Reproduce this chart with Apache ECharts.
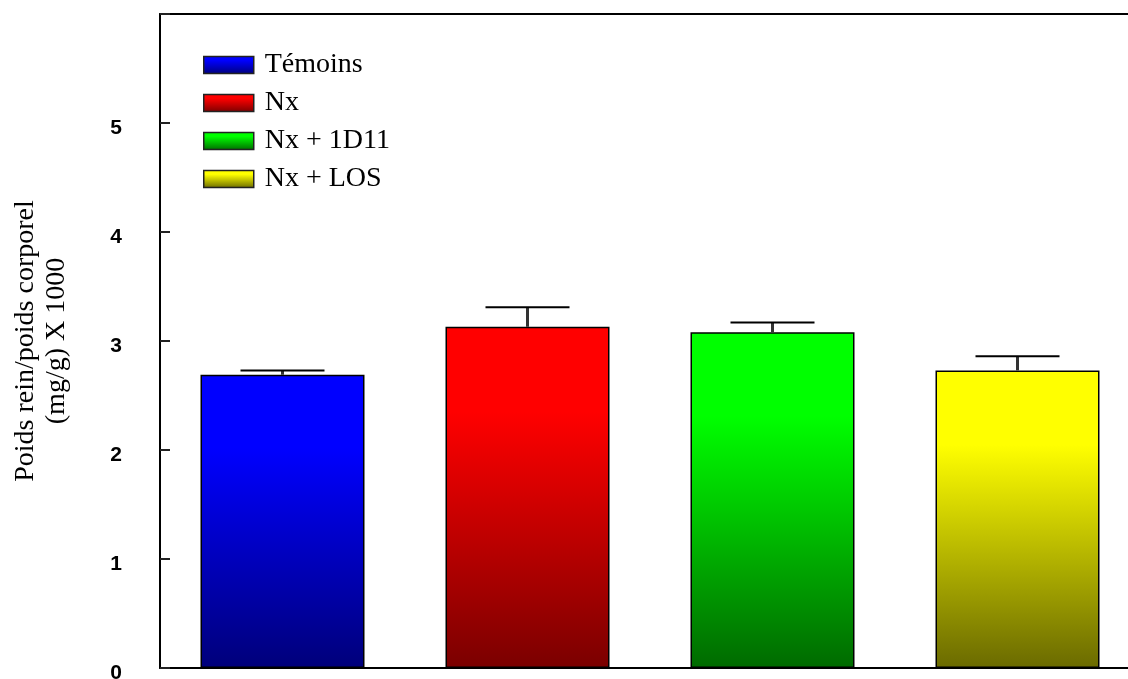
<!DOCTYPE html>
<html>
<head>
<meta charset="utf-8">
<script src="https://cdn.jsdelivr.net/npm/echarts@6/dist/echarts.min.js"></script>
<style>
html,body{margin:0;padding:0;background:#fff;}
#chart{width:1128px;height:679px;}
</style>
</head>
<body>
<div id="chart"></div>
<script>
const categories = ['Témoins', 'Nx', 'Nx + 1D11', 'Nx + LOS'];
const means = [2.69, 3.13, 3.08, 2.73];
const errors = [0.04, 0.18, 0.09, 0.13];
const yTicks = [0, 1, 2, 3, 4, 5];
const brightColors = ['#0000ff', '#ff0000', '#00ff00', '#ffff00'];
const darkColors = ['#00007a', '#7a0000', '#006a00', '#6a6a00'];

function grad(i) {
  return new echarts.graphic.LinearGradient(0, 0, 0, 1, [
    {offset: 0, color: brightColors[i]},
    {offset: 0.25, color: brightColors[i]},
    {offset: 1, color: darkColors[i]}
  ]);
}

const chart = echarts.init(document.getElementById('chart'));

const barSeries = categories.map((name, i) => ({
  name: name,
  type: 'bar',
  stack: 'all',
  barWidth: 164,
  data: categories.map((c, j) => j === i ? means[i] : '-'),
  itemStyle: {color: grad(i), borderColor: '#000', borderWidth: 1.5},
  emphasis: {disabled: true},
  animation: false
}));

const errData = categories.map((c, i) => [i, means[i], means[i] + errors[i]]);

const errorSeries = {
  type: 'custom',
  name: 'err',
  animation: false,
  z: 10,
  data: errData,
  renderItem: function (params, api) {
    const x = api.value(0);
    const base = api.coord([x, api.value(1)]);
    const top = api.coord([x, api.value(2)]);
    const half = 42;
    return {
      type: 'group',
      children: [
        {type: 'line', shape: {x1: base[0], y1: base[1], x2: top[0], y2: top[1]},
          style: {stroke: '#333', lineWidth: 3}},
        {type: 'line', shape: {x1: top[0] - half, y1: top[1], x2: top[0] + half, y2: top[1]},
          style: {stroke: '#000', lineWidth: 2}}
      ]
    };
  }
};

chart.setOption({
  backgroundColor: '#fff',
  animation: false,
  grid: {left: 160, top: 14, right: -12, bottom: 11, containLabel: false, outerBoundsMode: 'none'},
  legend: {
    orient: 'vertical',
    left: 198,
    top: 46,
    icon: 'rect',
    itemWidth: 50,
    itemHeight: 17,
    itemGap: 10,
    data: categories,
    selectedMode: false,
    itemStyle: {borderColor: '#222', borderWidth: 1.5},
    textStyle: {fontFamily: 'Liberation Serif', fontSize: 28, color: '#000', padding: [2, 0, 0, 6]}
  },
  xAxis: [{
    type: 'category',
    data: categories,
    position: 'bottom',
    axisLine: {show: true, lineStyle: {color: '#000', width: 2}},
    axisTick: {show: false},
    axisLabel: {show: false},
    splitLine: {show: false}
  }, {
    type: 'category',
    data: categories,
    position: 'top',
    axisLine: {show: true, onZero: false, lineStyle: {color: '#000', width: 2}},
    axisTick: {show: false},
    axisLabel: {show: false},
    splitLine: {show: false}
  }],
  yAxis: {
    type: 'value',
    min: 0,
    max: 6,
    interval: 1,
    name: 'Poids rein/poids corporel\n(mg/g) X 1000',
    nameLocation: 'middle',
    nameGap: 88,
    nameRotate: 90,
    nameTextStyle: {fontFamily: 'Liberation Serif', fontSize: 28, color: '#000', lineHeight: 31},
    axisLine: {show: true, lineStyle: {color: '#000', width: 2}},
    axisTick: {show: true, inside: true, length: 10, lineStyle: {color: '#222', width: 2}},
    axisLabel: {
      margin: 38,
      fontFamily: 'Liberation Sans Narrow, Liberation Sans',
      fontWeight: 'bold',
      fontSize: 21,
      color: '#000',
      verticalAlign: 'top',
      lineHeight: 10,
      formatter: function (v) { return yTicks.indexOf(v) >= 0 ? String(v) : ''; }
    },
    splitLine: {show: false}
  },
  series: barSeries.concat([errorSeries])
});
</script>
</body>
</html>
